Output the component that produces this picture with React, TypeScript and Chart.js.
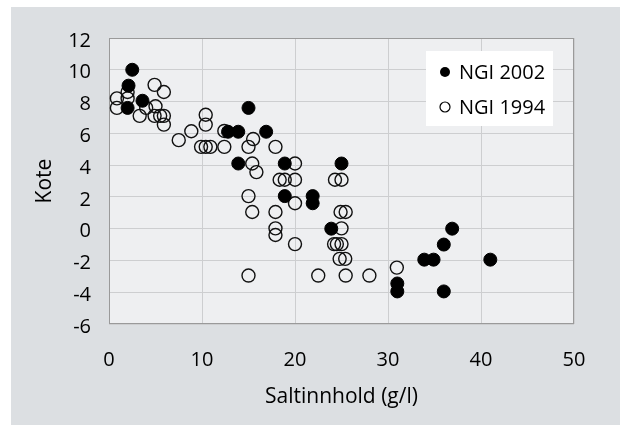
import React, { useEffect, useRef } from "react";
import { Chart, registerables } from "chart.js";

Chart.register(...registerables);

const seriesLabels = ["NGI 2002", "NGI 1994"];

const ngi2002X = [2.5, 2.1, 2.0, 3.6, 15.0, 12.8, 13.9, 16.9, 13.9, 18.9, 25.0, 18.9, 21.9, 21.9, 23.9, 36.9, 36.0, 33.9, 34.9, 41.0, 31.0, 31.0, 36.0];
const ngi2002Y = [10.0, 9.0, 7.6, 8.05, 7.6, 6.1, 6.1, 6.1, 4.1, 4.1, 4.1, 2.05, 2.05, 1.6, 0.0, 0.0, -1.0, -1.95, -1.95, -1.95, -3.45, -3.95, -3.95];

const ngi1994X = [0.85, 0.85, 2.0, 2.0, 3.3, 4.0, 4.9, 5.0, 4.9, 5.5, 5.9, 5.9, 5.9, 7.5, 8.85, 10.4, 10.4, 9.9, 10.4, 10.9, 12.4, 12.4, 15.0, 15.5, 15.4, 15.85, 17.9, 15.0, 15.4, 17.9, 17.9, 17.9, 15.0, 18.35, 18.9, 20.0, 20.0, 20.0, 20.0, 22.5, 24.3, 25.0, 24.9, 25.45, 25.0, 24.2, 24.5, 25.0, 24.8, 25.4, 25.45, 28.0, 30.95];
const ngi1994Y = [8.2, 7.6, 8.6, 8.2, 7.1, 7.6, 9.05, 7.7, 7.1, 7.1, 8.6, 7.1, 6.55, 5.57, 6.13, 7.17, 6.55, 5.15, 5.15, 5.15, 6.15, 5.15, 5.15, 5.64, 4.1, 3.56, 5.15, 2.05, 1.05, 1.05, 0.02, -0.4, -2.95, 3.08, 3.08, 3.08, 4.1, 1.6, -0.97, -2.95, 3.08, 3.08, 1.05, 1.05, 0.02, -0.97, -0.97, -0.97, -1.9, -1.9, -2.95, -2.95, -2.45];

const xTicks = [0, 10, 20, 30, 40, 50];
const yTicks = [-6, -4, -2, 0, 2, 4, 6, 8, 10, 12];

const FONT = "'Open Sans', 'Noto Sans', sans-serif";
const TEXT = "#000000";

const bgPlugin = {
  id: "bgPlugin",
  beforeDraw(chart: any) {
    const { ctx, chartArea } = chart;
    ctx.save();
    ctx.fillStyle = "#ffffff";
    ctx.fillRect(0, 0, chart.width, chart.height);
    ctx.fillStyle = "#dcdfe2";
    ctx.fillRect(11, 7, chart.width - 11, chart.height - 7);
    ctx.fillStyle = "#eeeff1";
    ctx.fillRect(chartArea.left, chartArea.top, chartArea.right - chartArea.left, chartArea.bottom - chartArea.top);
    ctx.restore();
  },
  beforeDatasetsDraw(chart: any) {
    const { ctx, chartArea } = chart;
    ctx.save();
    ctx.strokeStyle = "#9a9a9a";
    ctx.lineWidth = 1;
    ctx.strokeRect(Math.round(chartArea.left) + 0.5, Math.round(chartArea.top) + 0.5, Math.round(chartArea.right - chartArea.left) - 1, Math.round(chartArea.bottom - chartArea.top) - 1);
    ctx.restore();
  },
  afterDraw(chart: any) {
    const { ctx } = chart;
    const bx = 426, by = 51, bw = 127, bh = 75;
    ctx.save();
    ctx.fillStyle = "#ffffff";
    ctx.fillRect(bx, by, bw, bh);
    const rows = [72, 107];
    chart.data.datasets.forEach((ds: any, i: number) => {
      const cy = rows[i];
      ctx.beginPath();
      ctx.arc(445, cy, 5, 0, Math.PI * 2);
      if (i === 0) {
        ctx.fillStyle = "#000";
        ctx.fill();
      } else {
        ctx.fillStyle = "#fff";
        ctx.fill();
        ctx.lineWidth = 1.2;
        ctx.strokeStyle = "#000";
        ctx.stroke();
      }
      ctx.fillStyle = TEXT;
      ctx.font = `20px ${FONT}`;
      ctx.textBaseline = "middle";
      ctx.textAlign = "left";
      ctx.fillText(ds.label, 459, cy + 1);
    });
    ctx.restore();
  },
};

export default function App() {
  const ref = useRef<HTMLCanvasElement | null>(null);
  useEffect(() => {
    if (!ref.current) return;
    const toPts = (xs: number[], ys: number[]) => xs.map((x, i) => ({ x, y: ys[i] }));
    const chart = new Chart(ref.current, {
      type: "scatter",
      data: {
        datasets: [
          {
            label: seriesLabels[0],
            data: toPts(ngi2002X, ngi2002Y),
            pointRadius: 6.5,
            backgroundColor: "#000000",
            borderColor: "#000000",
            borderWidth: 1,
          },
          {
            label: seriesLabels[1],
            data: toPts(ngi1994X, ngi1994Y),
            pointRadius: 6.5,
            backgroundColor: "rgba(0,0,0,0)",
            borderColor: "#111111",
            borderWidth: 1.4,
          },
        ],
      },
      options: {
        responsive: false,
        animation: false,
        layout: { padding: { top: 38, right: 46, left: 0, bottom: 0 } },
        plugins: { legend: { display: false }, tooltip: { enabled: false } },
        scales: {
          x: {
            type: "linear",
            min: 0,
            max: 50,
            afterBuildTicks: (s: any) => { s.ticks = xTicks.map((v) => ({ value: v })); },
            afterFit: (s: any) => { s.height = 101; },
            grid: { color: "#cdced0", drawTicks: false, lineWidth: 1 },
            border: { display: false },
            ticks: { color: TEXT, font: { family: FONT, size: 20 }, padding: 24 },
            title: { display: true, text: "Saltinnhold (g/l)", color: TEXT, font: { family: FONT, size: 21 }, padding: { top: 0, bottom: 15 } },
          },
          y: {
            type: "linear",
            min: -6,
            max: 12,
            afterBuildTicks: (s: any) => { s.ticks = yTicks.map((v) => ({ value: v })); },
            afterFit: (s: any) => { s.width = 109; },
            grid: { color: "#cdced0", drawTicks: false, lineWidth: 1 },
            border: { display: false },
            ticks: { color: TEXT, font: { family: FONT, size: 20 }, padding: 18, labelOffset: 3 },
            title: { display: true, text: "Kote", color: TEXT, font: { family: FONT, size: 21 }, padding: { top: 32, bottom: 0 } },
          },
        },
      },
      plugins: [bgPlugin],
    });
    return () => chart.destroy();
  }, []);
  return (
    <div style={{ position: "absolute", left: 0, top: 0, width: 620, height: 425 }}>
      <canvas ref={ref} width={620} height={425} style={{ width: 620, height: 425, display: "block" }} />
    </div>
  );
}
